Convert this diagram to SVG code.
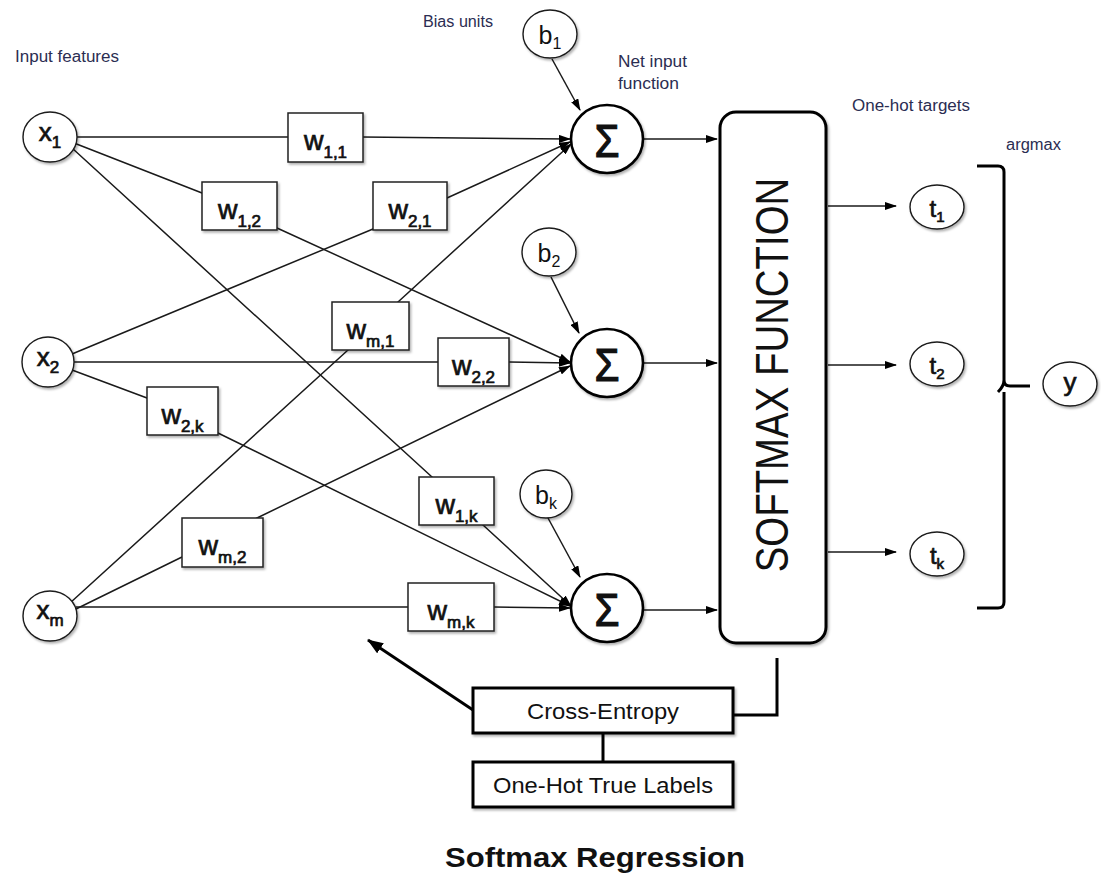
<svg xmlns="http://www.w3.org/2000/svg" width="1101" height="874" viewBox="0 0 1101 874">
<defs>
<style>
.lbl{font-family:"Liberation Sans",Arial,sans-serif;font-size:16px;fill:#2b2d52}
.nd{fill:#fff;stroke:#1a1a1a;stroke-width:1.4;filter:url(#sh)}
.sig{fill:#fff;stroke:#000;stroke-width:2.6;filter:url(#sh)}
.wb{fill:#fff;stroke:#222;stroke-width:1.5;filter:url(#sh)}
.bx{fill:#fff;stroke:#000;stroke-width:3;filter:url(#sh)}
.tx{font-family:"Liberation Sans",Arial,sans-serif;fill:#111;text-anchor:middle}
.bd{stroke:#111;stroke-width:0.7}
.ln{fill:none;stroke:#1a1a1a;stroke-width:1.5}
.ar{marker-end:url(#ah)}
.thick{fill:none;stroke:#000;stroke-width:3}
</style>
<filter id="sh" x="-20%" y="-20%" width="150%" height="150%">
<feDropShadow dx="1.5" dy="2" stdDeviation="1.2" flood-color="#000" flood-opacity="0.3"/>
</filter>
<marker id="ah" markerUnits="userSpaceOnUse" markerWidth="12" markerHeight="8" refX="11" refY="4" orient="auto">
<path d="M0,0 L12,4 L0,8 z" fill="#000"/>
</marker>
<marker id="ah2" markerUnits="userSpaceOnUse" markerWidth="16" markerHeight="12" refX="15" refY="6" orient="auto">
<path d="M0,0 L16,6 L0,12 z" fill="#000"/>
</marker>
</defs>
<rect x="0" y="0" width="1101" height="874" fill="#fff"/>

<g id="labels">
<text class="lbl" x="15" y="62" textLength="104" lengthAdjust="spacingAndGlyphs">Input features</text>
<text class="lbl" x="423" y="27" textLength="70" lengthAdjust="spacingAndGlyphs">Bias units</text>
<text class="lbl" x="618" y="67" textLength="69" lengthAdjust="spacingAndGlyphs">Net input</text>
<text class="lbl" x="618" y="89" textLength="61" lengthAdjust="spacingAndGlyphs">function</text>
<text class="lbl" x="852" y="111" textLength="118" lengthAdjust="spacingAndGlyphs">One-hot targets</text>
<text class="lbl" x="1006" y="150" textLength="55" lengthAdjust="spacingAndGlyphs">argmax</text>
</g>

<g id="connectors">
<polyline class="ln ar" points="77,137 288,137 362,137 570,139"/>
<polyline class="ln ar" points="74,143 202,193 277,228 570,362"/>
<polyline class="ln ar" points="72,148 432,477 483,525 571,606"/>
<polyline class="ln ar" points="72,354 373,229 447,198 570,142"/>
<polyline class="ln ar" points="74,362 438,362 509,362 570,363"/>
<polyline class="ln ar" points="72,370 147,398 218,433 570,606"/>
<polyline class="ln ar" points="70,603 348,350 398,302 571,144"/>
<polyline class="ln ar" points="74,610 182,557 257,518 570,366"/>
<polyline class="ln ar" points="76,607 408,607 494,607 570,608"/>
<line class="ln ar" x1="552" y1="59" x2="580" y2="110"/>
<line class="ln ar" x1="551" y1="277" x2="579" y2="333"/>
<line class="ln ar" x1="548" y1="518" x2="580" y2="577"/>
<line class="ln ar" x1="643" y1="139" x2="717" y2="139"/>
<line class="ln ar" x1="643" y1="363" x2="717" y2="363"/>
<line class="ln ar" x1="643" y1="610" x2="717" y2="610"/>
<line class="ln ar" x1="828" y1="206" x2="896" y2="206"/>
<line class="ln ar" x1="828" y1="365" x2="896" y2="365"/>
<line class="ln ar" x1="828" y1="552" x2="896" y2="552"/>
<polyline class="thick" points="777,658 777,715 733,715"/>
<line class="thick" x1="603" y1="733" x2="603" y2="762"/>
<line x1="473" y1="710" x2="368" y2="640" stroke="#000" stroke-width="3" marker-end="url(#ah2)"/>
<path class="thick" d="M977,166 L998,166 Q1004,166 1004,172 L1004,380 Q1004,386 1010,386 L1030,386 M1004,380 Q1004,386 998,392 M1004,392 L1004,602 Q1004,608 998,608 L977,608"/>
</g>

<g id="x1"><ellipse class="nd" cx="50" cy="137" rx="27" ry="25"/><text class="tx bd" x="50" y="141" font-size="26">x<tspan font-size="17" dy="7">1</tspan></text></g>
<g id="x2"><ellipse class="nd" cx="48" cy="362" rx="26" ry="25"/><text class="tx bd" x="48" y="366" font-size="26">x<tspan font-size="17" dy="7">2</tspan></text></g>
<g id="xm"><ellipse class="nd" cx="50" cy="616" rx="27" ry="25"/><text class="tx bd" x="50" y="619" font-size="26">x<tspan font-size="17" dy="7">m</tspan></text></g>

<g id="w11"><rect class="wb" x="288" y="113" width="75" height="49"/><text class="tx bd" x="325.5" y="150" font-size="27">w<tspan font-size="17" dy="8">1,1</tspan></text></g>
<g id="w12"><rect class="wb" x="202" y="182" width="75" height="48"/><text class="tx bd" x="239.5" y="219" font-size="27">w<tspan font-size="17" dy="8">1,2</tspan></text></g>
<g id="w21"><rect class="wb" x="373" y="182" width="74" height="48"/><text class="tx bd" x="410" y="219" font-size="27">w<tspan font-size="17" dy="8">2,1</tspan></text></g>
<g id="wm1"><rect class="wb" x="332" y="302" width="77" height="48"/><text class="tx bd" x="370.5" y="339" font-size="27">w<tspan font-size="17" dy="8">m,1</tspan></text></g>
<g id="w22"><rect class="wb" x="438" y="338" width="71" height="48"/><text class="tx bd" x="473.5" y="375" font-size="27">w<tspan font-size="17" dy="8">2,2</tspan></text></g>
<g id="w2k"><rect class="wb" x="147" y="387" width="71" height="48"/><text class="tx bd" x="182.5" y="424" font-size="27">w<tspan font-size="17" dy="8">2,k</tspan></text></g>
<g id="wm2"><rect class="wb" x="182" y="518" width="81" height="49"/><text class="tx bd" x="222.5" y="555" font-size="27">w<tspan font-size="17" dy="8">m,2</tspan></text></g>
<g id="w1k"><rect class="wb" x="419" y="477" width="75" height="48"/><text class="tx bd" x="456.5" y="514" font-size="27">w<tspan font-size="17" dy="8">1,k</tspan></text></g>
<g id="wmk"><rect class="wb" x="408" y="583" width="86" height="48"/><text class="tx bd" x="451" y="620" font-size="27">w<tspan font-size="17" dy="8">m,k</tspan></text></g>

<g id="b1"><ellipse class="nd" cx="550" cy="34" rx="27" ry="24"/><text class="tx" x="550" y="44" font-size="25">b<tspan font-size="16" dy="5">1</tspan></text></g>
<g id="b2"><ellipse class="nd" cx="549" cy="252" rx="27" ry="24"/><text class="tx" x="549" y="262" font-size="25">b<tspan font-size="16" dy="5">2</tspan></text></g>
<g id="bk"><ellipse class="nd" cx="546" cy="494" rx="26" ry="24"/><text class="tx" x="546" y="504" font-size="25">b<tspan font-size="16" dy="5">k</tspan></text></g>

<g id="sum1"><ellipse class="sig" cx="607" cy="139" rx="36" ry="34"/><text class="tx" x="607" y="157" font-size="46" stroke="#111" stroke-width="1.2" textLength="25" lengthAdjust="spacingAndGlyphs">Σ</text></g>
<g id="sum2"><ellipse class="sig" cx="607" cy="363" rx="36" ry="34"/><text class="tx" x="607" y="381" font-size="46" stroke="#111" stroke-width="1.2" textLength="25" lengthAdjust="spacingAndGlyphs">Σ</text></g>
<g id="sumk"><ellipse class="sig" cx="607" cy="608" rx="36" ry="34"/><text class="tx" x="607" y="626" font-size="46" stroke="#111" stroke-width="1.2" textLength="25" lengthAdjust="spacingAndGlyphs">Σ</text></g>

<g id="softmax"><rect class="bx" x="720" y="112" width="106" height="531" rx="16"/><text class="tx" transform="translate(788,375) scale(1.2,1) rotate(-90)" x="0" y="0" font-size="38.4" fill="#000">SOFTMAX FUNCTION</text></g>

<g id="t1"><ellipse class="nd" cx="937" cy="207" rx="27" ry="22"/><text class="tx bd" x="937" y="217" font-size="24">t<tspan font-size="15" dy="5">1</tspan></text></g>
<g id="t2"><ellipse class="nd" cx="937" cy="364" rx="27" ry="22"/><text class="tx bd" x="937" y="374" font-size="24">t<tspan font-size="15" dy="5">2</tspan></text></g>
<g id="tk"><ellipse class="nd" cx="937" cy="554" rx="27" ry="22"/><text class="tx bd" x="937" y="564" font-size="24">t<tspan font-size="15" dy="5">k</tspan></text></g>

<g id="y"><ellipse class="nd" cx="1070" cy="384" rx="27" ry="22"/><text class="tx bd" x="1070" y="391" font-size="26">y</text></g>

<g id="crossentropy"><rect class="bx" x="473" y="688" width="260" height="45"/><text class="tx" x="603" y="719" font-size="22" textLength="152" lengthAdjust="spacingAndGlyphs">Cross-Entropy</text></g>
<g id="truelabels"><rect class="bx" x="473" y="762" width="260" height="45"/><text class="tx" x="603" y="793" font-size="22" textLength="220" lengthAdjust="spacingAndGlyphs">One-Hot True Labels</text></g>

<g id="title"><text class="tx" x="595" y="867" font-size="28" font-weight="bold" fill="#111" textLength="300" lengthAdjust="spacingAndGlyphs">Softmax Regression</text></g>
</svg>
